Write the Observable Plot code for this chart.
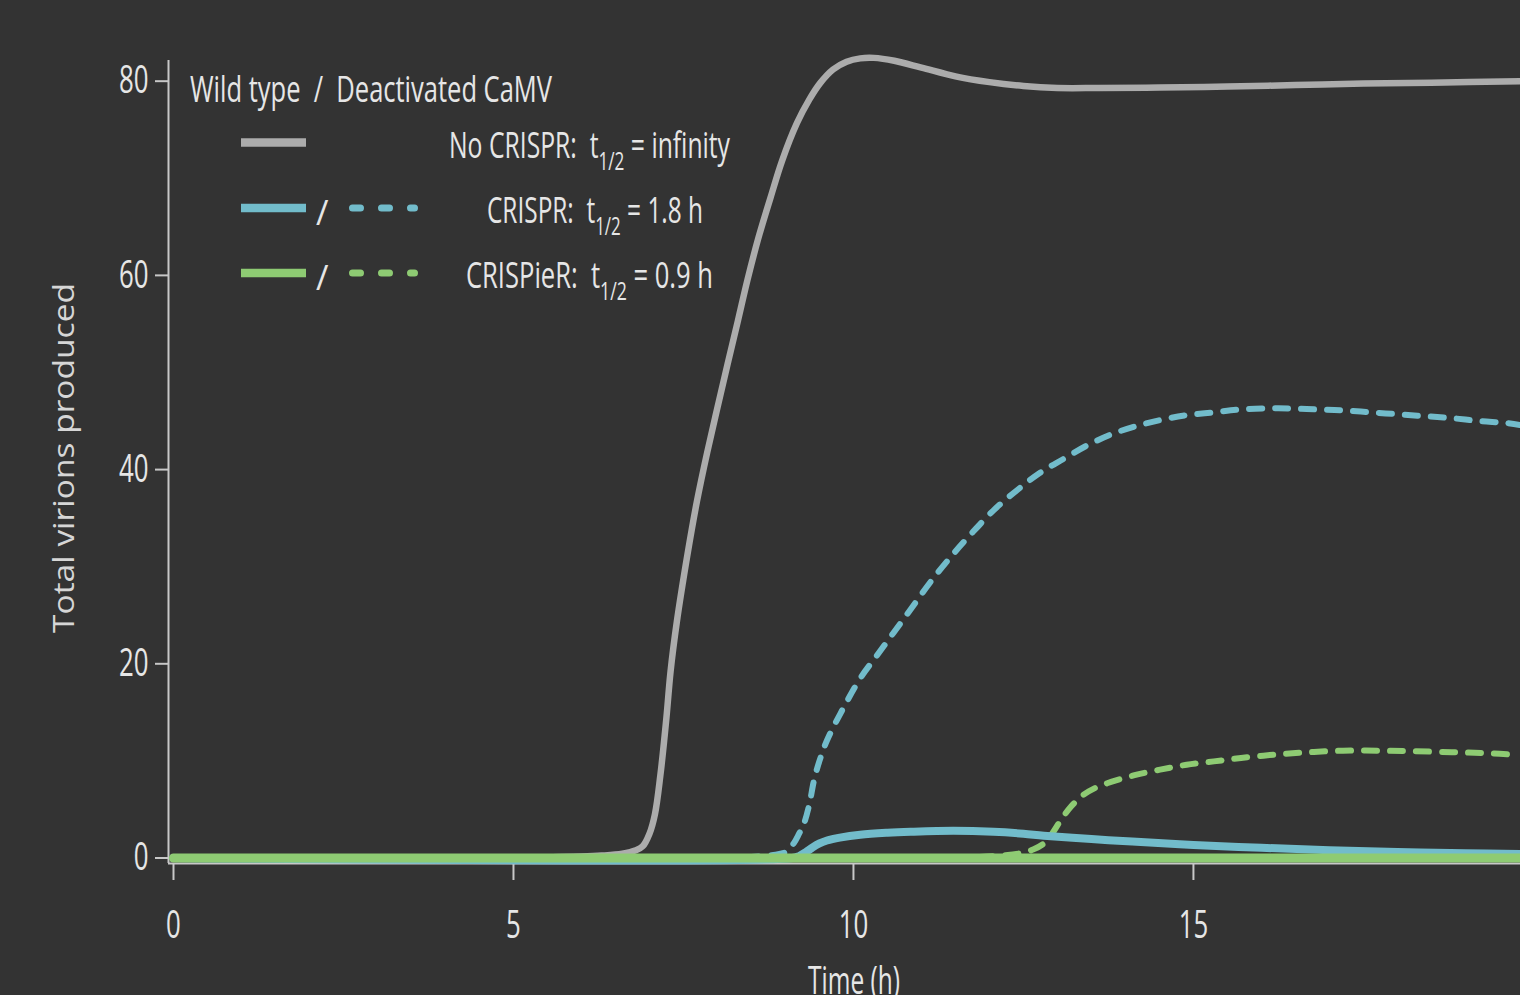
<!DOCTYPE html>
<html><head><meta charset="utf-8">
<script src="https://cdn.jsdelivr.net/npm/d3@7"></script>
<script src="https://cdn.jsdelivr.net/npm/@observablehq/plot@0.6"></script>
<style>html,body{margin:0;padding:0;background:#333333;overflow:hidden}</style>
</head><body><div id="chart"></div><script>
// ---- data (time in h, total virions) ----
const xTicks = [0, 5, 10, 15];
const yTicks = [0, 20, 40, 60, 80];
const wildNoCrispr = [[0,0],[5,0],[5.5,0.08],[6,0.15],[6.3,0.25],[6.6,0.45],[6.8,0.8],[6.9,1.2],[7,2.5],[7.08,4.5],[7.16,8.5],[7.25,14.5],[7.31,19.2],[7.4,24.2],[7.56,31.3],[7.7,36.8],[7.85,41.8],[8,46.4],[8.15,50.9],[8.3,55.3],[8.44,59.5],[8.6,63.8],[8.78,68],[8.95,71.8],[9.17,75.7],[9.35,78.1],[9.51,79.8],[9.7,81.2],[9.9,82],[10.1,82.35],[10.3,82.4],[10.6,82.1],[11,81.4],[11.5,80.5],[12,79.9],[12.5,79.5],[13,79.3],[13.6,79.3],[14.5,79.35],[15.5,79.45],[16.5,79.6],[17.5,79.75],[18.5,79.85],[19.8,80]];
const deactCrispr = [[0,0],[8,0],[8.5,0.1],[8.8,0.3],[9,0.6],[9.12,1.5],[9.2,2.5],[9.27,3.5],[9.35,5.5],[9.42,8],[9.5,10],[9.61,12.1],[9.81,14.9],[10.1,18.5],[10.35,20.9],[10.59,23.2],[10.84,25.6],[11.13,28.4],[11.43,31],[11.72,33.3],[12.06,35.8],[12.41,37.9],[12.75,39.7],[13.09,41.1],[13.44,42.5],[13.78,43.6],[14.12,44.4],[14.51,45.1],[14.9,45.6],[15.3,45.9],[15.7,46.2],[16.1,46.3],[16.4,46.3],[16.8,46.2],[17.2,46.1],[17.6,45.9],[18,45.7],[18.4,45.5],[18.8,45.3],[19.2,45],[19.6,44.8],[19.8,44.6]];
const wildCrispr = [[0,0],[9.1,0],[9.2,0.2],[9.3,0.6],[9.4,1.1],[9.5,1.5],[9.61,1.8],[9.8,2.1],[10.1,2.4],[10.5,2.6],[10.84,2.7],[11.47,2.8],[12.06,2.7],[12.5,2.5],[12.8,2.3],[13.5,1.95],[14.1,1.7],[15,1.35],[16,1.05],[17,0.8],[18,0.62],[19,0.5],[19.8,0.42]];
const deactCrispier = [[0,0],[11,0],[11.8,0.1],[12.2,0.25],[12.46,0.5],[12.65,0.9],[12.8,1.5],[12.92,2.5],[13.04,3.8],[13.2,5.3],[13.38,6.5],[13.55,7.2],[13.73,7.7],[14.12,8.5],[14.51,9.1],[14.9,9.6],[15.3,9.95],[15.7,10.3],[16.2,10.65],[16.7,10.9],[17.2,11.05],[17.7,11.05],[18.2,11],[18.8,10.9],[19.3,10.8],[19.8,10.6]];
const wildCrispier = [[0,0],[19.8,0]];

const legendTitle = "Wild type  /  Deactivated CaMV";
const legendNames = ["No CRISPR:", "CRISPR:", "CRISPieR:"];
const legendValues = [" = infinity", " = 1.8 h", " = 0.9 h"];
const xLabel = "Time (h)";
const yLabel = "Total virions produced";

// ---- styles ----
const FONT = "'Open Sans', 'Noto Sans', sans-serif";
const BG = "#333333", AXIS = "#c8c8c8", TEXT = "#e6e6e6";
const GRAY = "#acacac", BLUE = "#72bccb", GREEN = "#8ecb73";
const SQUEEZE = 0.68;

const rows = a => a.map(([t, v]) => ({t, v}));
const X0 = -0.0735, X1 = 19.81, Y0 = -0.566, Y1 = 82.13;
const CURVE = "catmull-rom";

const chart = Plot.plot({
  width: 1520, height: 995,
  marginLeft: 168, marginRight: 0, marginTop: 60, marginBottom: 132,
  x: {domain: [X0, X1]},
  y: {domain: [Y0, Y1]},
  style: {background: BG, color: TEXT, fontFamily: FONT},
  marks: [
    Plot.axisX({ticks: xTicks, tickSize: 17, tickPadding: 31, fontSize: 38, stroke: AXIS, strokeWidth: 2, fill: TEXT, label: null}),
    Plot.axisY({ticks: yTicks, tickSize: 13, tickPadding: 7, fontSize: 38, stroke: AXIS, strokeWidth: 2, fill: TEXT, label: null}),
    Plot.ruleX([X0], {stroke: AXIS, strokeWidth: 2}),
    Plot.ruleY([Y0], {stroke: AXIS, strokeWidth: 2}),
    Plot.line(rows(wildNoCrispr), {x: "t", y: "v", stroke: GRAY, strokeWidth: 6.5, curve: CURVE}),
    Plot.line(rows(deactCrispr), {x: "t", y: "v", stroke: BLUE, strokeWidth: 6, strokeDasharray: "13,13", curve: CURVE}),
    Plot.line(rows(deactCrispier), {x: "t", y: "v", stroke: GREEN, strokeWidth: 6, strokeDasharray: "13,13", curve: CURVE}),
    Plot.line(rows(wildCrispr), {x: "t", y: "v", stroke: BLUE, strokeWidth: 8, curve: CURVE}),
    Plot.line(rows(wildCrispier), {x: "t", y: "v", stroke: GREEN, strokeWidth: 9, curve: CURVE})
  ]
});
document.getElementById("chart").appendChild(chart);
const svg = d3.select(chart);

// condensed look for tick labels
svg.selectAll('g[aria-label="x-axis tick label"] text, g[aria-label="y-axis tick label"] text').each(function () {
  const x = +this.getAttribute("x") || 0, y = +this.getAttribute("y") || 0;
  const tr = this.getAttribute("transform") || "";
  this.setAttribute("transform", `${tr} translate(${x},${y}) scale(${SQUEEZE},1) translate(${-x},${-y})`);
});

// axis titles
svg.append("text").attr("transform", "translate(74,458) rotate(-90)")
  .attr("text-anchor", "middle").attr("font-family", FONT).attr("font-size", 29)
  .attr("textLength", 350).attr("lengthAdjust", "spacingAndGlyphs")
  .attr("fill", "#d6d6d6").text(yLabel);
svg.append("text").attr("x", 854).attr("y", 994).attr("text-anchor", "middle")
  .attr("font-family", FONT).attr("font-size", 38)
  .attr("textLength", 92).attr("lengthAdjust", "spacingAndGlyphs")
  .attr("fill", TEXT).text(xLabel);

// ---- legend (inside the plot, top-left) ----
const lg = svg.append("g").attr("font-family", FONT)
  .attr("fill", TEXT).attr("text-anchor", "start");
lg.append("text").attr("x", 190).attr("y", 102).attr("font-size", 37)
  .attr("textLength", 362).attr("lengthAdjust", "spacingAndGlyphs")
  .style("white-space", "pre").text(legendTitle);

const rowY = [142.5, 208, 273];
const solidColors = [GRAY, BLUE, GREEN];
const textX = [449, 487, 466];
const textLen = [281, 216, 247];
rowY.forEach((y, i) => {
  lg.append("line").attr("x1", 241).attr("x2", 306).attr("y1", y).attr("y2", y)
    .attr("stroke", solidColors[i]).attr("stroke-width", 8.5);
  if (i > 0) {
    lg.append("text").attr("x", 316).attr("y", y + 17).attr("font-size", 34).text("/");
    lg.append("line").attr("x1", 352.5).attr("x2", 414.5).attr("y1", y).attr("y2", y)
      .attr("stroke", solidColors[i]).attr("stroke-width", 7).attr("stroke-linecap", "round")
      .attr("stroke-dasharray", "8 21");
  }
  const t = lg.append("text").attr("x", textX[i]).attr("y", y + 15).attr("font-size", 36)
    .attr("textLength", textLen[i]).attr("lengthAdjust", "spacingAndGlyphs").style("white-space", "pre");
  t.append("tspan").text(legendNames[i] + "  t");
  t.append("tspan").attr("font-size", 25).attr("dy", 12).text("1/2");
  t.append("tspan").attr("dy", -12).text(legendValues[i]);
});
</script></body></html>
